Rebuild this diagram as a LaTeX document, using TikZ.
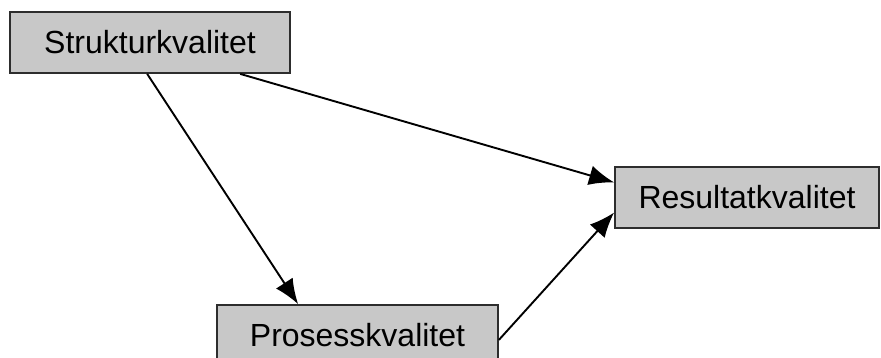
\documentclass[tikz,border=0pt]{standalone}
\usepackage{fontspec}
\setmainfont{Liberation Sans}
\usetikzlibrary{calc,arrows.meta}
\definecolor{boxfill}{RGB}{200,200,200}
\definecolor{boxline}{RGB}{45,45,45}
\tikzset{
  qbox/.style={draw=boxline, line width=1.8pt, fill=boxfill, minimum height=61pt, inner sep=0pt, font=\fontsize{32}{36}\selectfont},
  conn/.style={line width=1.9pt, -{Latex[length=25pt,width=20pt]}}
}
\begin{document}
\begin{tikzpicture}[x=1pt,y=1pt]
\useasboundingbox (0,0) rectangle (881,358);
\node[qbox, minimum width=280pt] (S) at (150,315.5) {Strukturkvalitet};
\node[qbox, minimum width=264pt] (R) at (747,160.5) {Resultatkvalitet};
\node[qbox, minimum width=281pt] (P) at (357.5,22.5) {Prosesskvalitet};
\coordinate (s1) at ($(S.south west)!0.49!(S.south east)$);
\coordinate (s2) at ($(S.south west)!0.82!(S.south east)$);
\coordinate (p1) at ($(P.north west)!0.29!(P.north east)$);
\coordinate (p2) at ($(P.north east)!0.57!(P.south east)$);
\coordinate (r1) at ($(R.north west)!0.26!(R.south west)$);
\coordinate (r2) at ($(R.north west)!0.74!(R.south west)$);
\draw[conn] (s1) -- (p1);
\draw[conn] (s2) -- (r1);
\draw[conn] (p2) -- (r2);
\end{tikzpicture}
\end{document}
